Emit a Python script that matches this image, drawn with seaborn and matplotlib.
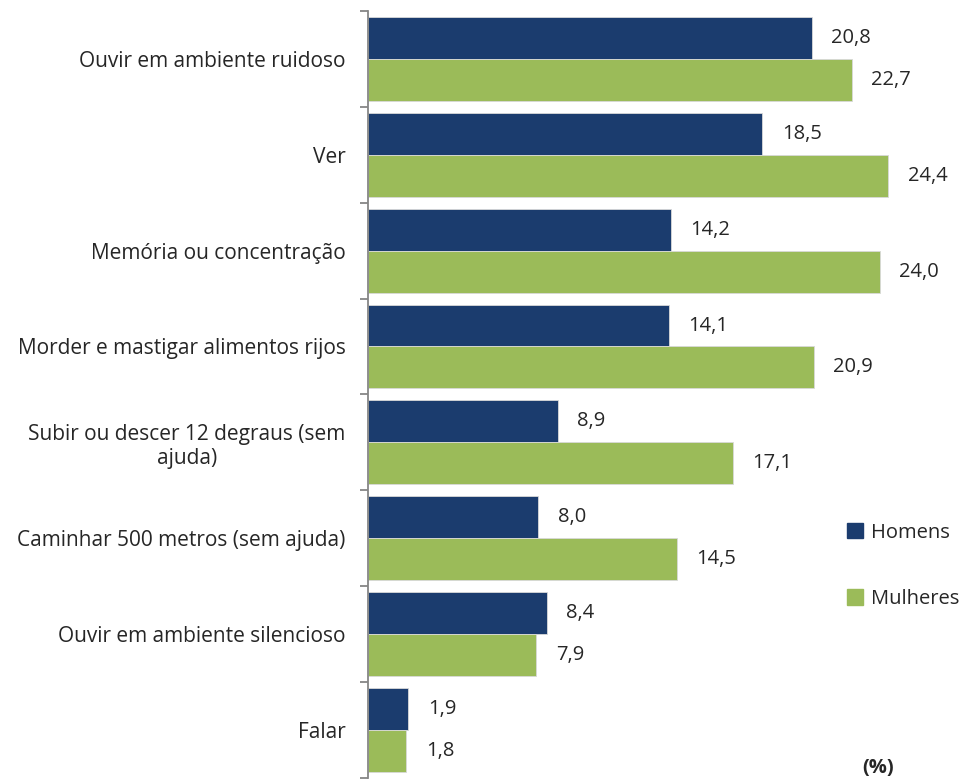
import pandas as pd
import numpy as np
import matplotlib.pyplot as plt
import seaborn as sns

# Data
categorias = ["Ouvir em ambiente ruidoso", "Ver", "Memória ou concentração",
              "Morder e mastigar alimentos rijos",
              "Subir ou descer 12 degraus (sem\najuda)",
              "Caminhar 500 metros (sem ajuda)", "Ouvir em ambiente silencioso",
              "Falar"]
homens = [20.8, 18.5, 14.2, 14.1, 8.9, 8.0, 8.4, 1.9]
mulheres = [22.7, 24.4, 24.0, 20.9, 17.1, 14.5, 7.9, 1.8]
series = ["Homens", "Mulheres"]
cores = ["#1B3C6E", "#9BBB59"]

df = pd.DataFrame({
    "categoria": categorias * 2,
    "valor": homens + mulheres,
    "sexo": [series[0]] * len(categorias) + [series[1]] * len(categorias),
})

sns.set_style("white")
plt.rcParams['font.family'] = ['Open Sans', 'DejaVu Sans']
fs = 15

fig = plt.figure(figsize=(9.63, 7.81), dpi=100)
ax = fig.add_axes([0.382, 0.004, 0.598, 0.982])

sns.barplot(data=df, x="valor", y="categoria", hue="sexo", orient="h",
            palette=cores, saturation=1, width=0.875, ax=ax, legend=False,
            edgecolor="#d9d9d9", linewidth=0.6)

ax.set_xlim(0, 27)
ax.set_ylim(len(categorias) - 0.5, -0.5)
ax.set_xlabel("")
ax.set_ylabel("")
ax.set_xticks([])

# Value labels
for cont in ax.containers:
    ax.bar_label(cont, labels=[f"{v:.1f}".replace(".", ",") for v in cont.datavalues],
                 padding=14, fontsize=fs - 0.5)

# Axis styling
for s in ["top", "right", "bottom"]:
    ax.spines[s].set_visible(False)
ax.spines["left"].set_color("#868686")
ax.spines["left"].set_linewidth(1.3)
ax.set_yticks(np.arange(-0.5, len(categorias), 1), minor=True)
ax.tick_params(axis="y", which="major", length=0, pad=16, labelsize=fs)
ax.tick_params(axis="y", which="minor", length=6, width=1.3, color="#868686", left=True)
for lbl in ax.get_yticklabels():
    lbl.set_multialignment("center")

# Legend
handles = [plt.Rectangle((0, 0), 1, 1, color=c) for c in cores]
fig.legend(handles, series, loc="upper left", bbox_to_anchor=(0.861, 0.354),
           frameon=False, fontsize=fs - 0.5, handlelength=0.8, handleheight=0.8,
           labelspacing=2.3, handletextpad=0.4)

fig.text(0.928, 0.010, "(%)", fontsize=fs - 0.5, fontweight="bold", ha="right")

plt.savefig("out.png", dpi=100)
